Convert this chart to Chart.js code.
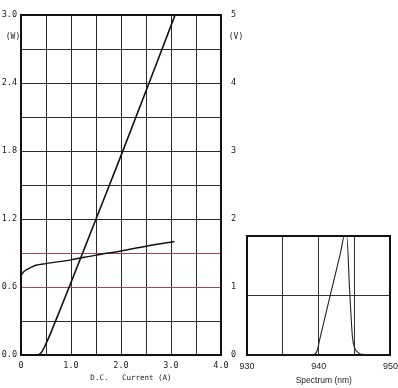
<!DOCTYPE html>
<html>
<head>
<meta charset="utf-8">
<script src="https://cdn.jsdelivr.net/npm/chart.js@4"></script>
<style>
  body { margin: 0; background: #fff; overflow: hidden; }
  #wrap { position: relative; width: 398px; height: 388px; overflow: hidden; }
  #mainChart { position: absolute; left: 0; top: 0; }
  #specChart { position: absolute; left: 232px; top: 222px; }
</style>
</head>
<body>
<div id="wrap">
  <canvas id="mainChart" width="250" height="388"></canvas>
  <canvas id="specChart" width="172" height="166"></canvas>
</div>
<script>
// Optical power (W) vs D.C. current (A)
var powerCurrent = [0, 0.3, 0.36, 0.42, 0.5, 0.6, 0.7, 1.0, 1.5, 2.0, 2.5, 3.08];
var powerW = [0, 0, 0.005, 0.03, 0.1, 0.2, 0.31, 0.64, 1.2, 1.76, 2.33, 3.0];

// Forward voltage (V) vs D.C. current (A)
var voltCurrent = [0, 0.05, 0.1, 0.2, 0.3, 0.5, 1.0, 1.5, 2.0, 2.5, 3.07];
var voltV = [1.17, 1.22, 1.25, 1.29, 1.32, 1.345, 1.40, 1.47, 1.53, 1.60, 1.67];

// Spectrum (relative) vs wavelength (nm)
var waveNm = [930, 939, 939.5, 939.8, 940.1, 941, 942, 943, 943.6, 943.9, 944.3, 944.7, 945.0, 945.5, 946, 950];
var specLevel = [0, 0, 0.01, 0.04, 0.12, 0.35, 0.6, 0.85, 1.0, 1.0, 0.55, 0.15, 0.06, 0.02, 0.005, 0];

// tick labels
var currentTickLabels = ["0", "1.0", "2.0", "3.0", "4.0"];
var wattTickLabels = ["0.0", "0.6", "1.2", "1.8", "2.4", "3.0"];
var voltTickLabels = ["0", "1", "2", "3", "4", "5"];
var nmTickLabels = ["930", "940", "950"];

Chart.defaults.font.family = "'DejaVu Sans Mono', monospace";
Chart.defaults.font.size = 8.5;
Chart.defaults.color = '#222';

function pick(labels, v, step) {
  var i = v / step;
  if (Math.abs(i - Math.round(i)) > 1e-6) return '';
  return labels[Math.round(i)];
}

function toXY(xs, ys) {
  return xs.map(function (x, i) { return { x: x, y: ys[i] }; });
}

// a bare axis used only to draw the frame edge
function frameAxis(pos, min, max, size) {
  return {
    type: 'linear', position: pos, min: min, max: max,
    afterFit: function (s) { if (pos === 'top') s.height = size; else s.width = size; },
    ticks: { display: false },
    grid: { display: false, drawTicks: false },
    border: { color: '#111', width: 2 }
  };
}

var mainNotes = {
  id: 'mainNotes',
  afterDraw: function (chart) {
    var c = chart.ctx, a = chart.chartArea, y = chart.scales.yW, x = chart.scales.x;
    c.save();
    c.fillStyle = '#222';
    c.font = "8px 'DejaVu Sans Mono'";
    c.textAlign = 'center';
    c.textBaseline = 'middle';
    c.fillText('(W)', a.left - 8, y.getPixelForValue(2.81));
    c.fillText('(V)', a.right + 15, y.getPixelForValue(2.81));
    c.font = "7.5px 'DejaVu Sans Mono'";
    c.fillText('D.C.   Current (A)', x.getPixelForValue(2.2), a.bottom + 23);
    c.restore();
  }
};

new Chart(document.getElementById('mainChart'), {
  type: 'line',
  data: {
    datasets: [
      {
        data: toXY(powerCurrent, powerW),
        yAxisID: 'yW',
        borderColor: '#111',
        borderWidth: 1.6,
        pointRadius: 0,
        cubicInterpolationMode: 'monotone',
        fill: false
      },
      {
        data: toXY(voltCurrent, voltV),
        yAxisID: 'yV',
        borderColor: '#111',
        borderWidth: 1.4,
        pointRadius: 0,
        cubicInterpolationMode: 'monotone',
        fill: false
      }
    ]
  },
  options: {
    responsive: false,
    animation: false,
    devicePixelRatio: 1,
    layout: { padding: { top: 12, left: 0, right: 0, bottom: 0 } },
    plugins: { legend: { display: false }, tooltip: { enabled: false } },
    scales: {
      x: {
        type: 'linear',
        min: 0, max: 4,
        afterFit: function (s) { s.height = 33; },
        ticks: {
          stepSize: 0.5, padding: 6, maxRotation: 0, autoSkip: false,
          callback: function (v) { return pick(currentTickLabels, v, 1); }
        },
        grid: { color: '#2a2a2a', lineWidth: 1, drawTicks: false },
        border: { color: '#111', width: 2 }
      },
      xTop: frameAxis('top', 0, 4, 0),
      yW: {
        position: 'left',
        min: 0, max: 3,
        afterFit: function (s) { s.width = 21; },
        ticks: {
          stepSize: 0.3, padding: 4, autoSkip: false,
          callback: function (v) { return pick(wattTickLabels, v, 0.6); }
        },
        grid: {
          drawTicks: false,
          lineWidth: 1,
          color: function (ctx) {
            var v = ctx.tick ? ctx.tick.value : 0;
            if (Math.abs(v - 0.6) < 1e-6 || Math.abs(v - 0.9) < 1e-6) return '#9a4a5c';
            return '#2a2a2a';
          }
        },
        border: { color: '#111', width: 2 }
      },
      yV: {
        position: 'right',
        min: 0, max: 5,
        afterFit: function (s) { s.width = 29; },
        ticks: {
          stepSize: 0.5, padding: 10, autoSkip: false,
          callback: function (v) { return pick(voltTickLabels, v, 1); }
        },
        grid: { drawOnChartArea: false, drawTicks: false },
        border: { color: '#111', width: 2 }
      }
    }
  },
  plugins: [mainNotes]
});

var specNotes = {
  id: 'specNotes',
  afterDraw: function (chart) {
    var c = chart.ctx, a = chart.chartArea, x = chart.scales.x;
    c.save();
    c.fillStyle = '#222';
    c.font = "8.5px 'Liberation Sans'";
    c.textAlign = 'center';
    c.textBaseline = 'middle';
    c.fillText('Spectrum (nm)', x.getPixelForValue(940.7), a.bottom + 26);
    c.restore();
  }
};

new Chart(document.getElementById('specChart'), {
  type: 'line',
  data: {
    datasets: [{
      data: toXY(waveNm, specLevel),
      borderColor: '#222',
      borderWidth: 1.1,
      pointRadius: 0,
      cubicInterpolationMode: 'monotone',
      fill: false
    }]
  },
  options: {
    responsive: false,
    animation: false,
    devicePixelRatio: 1,
    layout: { padding: { top: 14, left: 0, right: 0, bottom: 0 } },
    plugins: { legend: { display: false }, tooltip: { enabled: false } },
    scales: {
      x: {
        type: 'linear',
        min: 930, max: 950,
        afterFit: function (s) { s.height = 33; },
        ticks: {
          stepSize: 5, padding: 6, maxRotation: 0, autoSkip: false,
          font: { family: "'Liberation Sans'", size: 9 },
          callback: function (v) { return pick(nmTickLabels, v - 930, 10); }
        },
        grid: { color: '#333', lineWidth: 1, drawTicks: false },
        border: { color: '#111', width: 2 }
      },
      xTop: frameAxis('top', 930, 950, 0),
      y: {
        min: 0, max: 1,
        afterFit: function (s) { s.width = 15; },
        ticks: { stepSize: 0.5, display: false },
        grid: { color: '#333', lineWidth: 1, drawTicks: false },
        border: { color: '#111', width: 2 }
      },
      yRight: frameAxis('right', 0, 1, 0)
    }
  },
  plugins: [specNotes]
});
</script>
</body>
</html>
